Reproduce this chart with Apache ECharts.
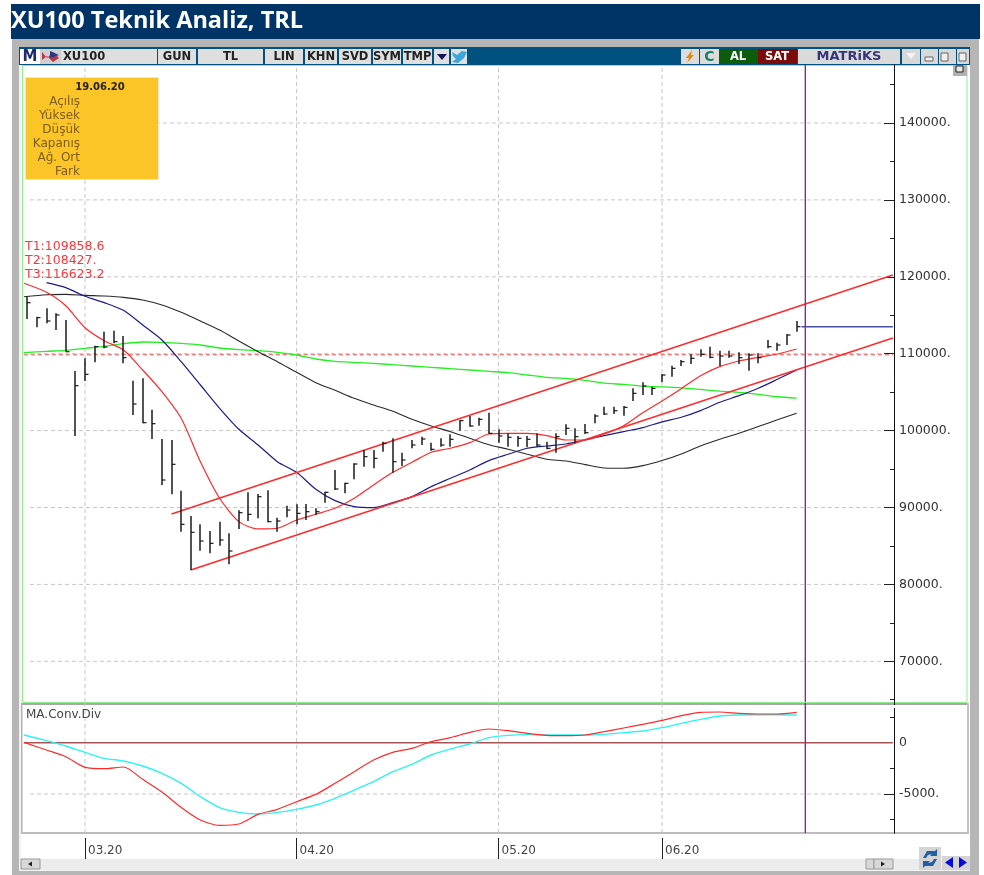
<!DOCTYPE html>
<html>
<head>
<meta charset="utf-8">
<title>XU100 Teknik Analiz, TRL</title>
<script src="https://cdn.jsdelivr.net/npm/echarts@6/dist/echarts.min.js"></script>
<style>
  html, body { margin: 0; padding: 0; background: #fff; }
  #main { width: 984px; height: 875px; }
</style>
</head>
<body>
<div id="main"></div>
<script>
// trading day index, 0 = first bar on the screen
const barDays = []
const barHigh = [117416,114815,115899,115249,114382,107749,109397,111044,112864,112994,112301,106492,106795,102721,98906,98776,92186,88892,87808,86941,88155,86637,89629,91970,91753,92229,88675,90236,90409,90454,89890,92057,94875,93228,95742,97476,97476,98560,98993,97129,98776,99210,98430,98993,99514,101378,101898,101681,102331,100164,99644,99297,99297,99644,98559,99643,100813,100293,100857,102114,103111,103111,103198,105495,106276,105712,107359,108443,109180,109917,110567,110914,110394,110394,110177,110047,110047,111781,111434,112561,114252]
const barLow = [114512,113428,113948,113081,110263,99296,106449,108876,110697,111347,108746,102027,100943,98906,92923,91710,86855,81869,84383,84037,85034,82606,87201,88242,88588,88068,86855,88718,87808,88372,89023,90627,92274,91840,93661,95309,95092,97259,94528,95395,97693,98126,97389,97909,97909,99990,100510,100640,99557,98430,97909,97909,97823,97909,97563,97129,99426,98342,99556,100943,102027,102157,101941,103848,104628,104628,106276,107012,108400,108660,109613,109396,108400,109483,108660,107793,108746,110697,110394,111131,112865]
const barClose = [116636,114685,114252,115032,110263,105842,107316,110914,110870,111564,109483,103458,101030,100900,93574,95611,87808,86768,85641,85337,85771,84340,89325,89109,91406,88155,88242,89672,89238,89456,89456,91970,92404,93141,95655,96609,96392,98343,95958,96176,98126,98907,97563,98126,98863,101291,100597,101464,99644,99297,99124,98993,98863,98126,97693,99210,100293,99210,99730,101897,102157,102591,103024,104845,105798,105495,107229,108097,108963,109396,109917,109527,109700,109700,109483,109830,109483,110914,111131,112431,113515]
barHigh.forEach((v, i) => barDays.push(i))

// moving averages are read every second day
const lineDays = [-0.35,2,4,6,8,10,12,14,16,18,20,22,24,26,28,30,32,34,36,38,40,42,44,46,48,50,52,54,56,58,60,62,64,66,68,70,72,74,76,78,80]
const maRed = [119155,117985,116240,113380,111690,110480,107880,105060,101600,95960,91200,88160,87210,87300,88370,89120,89900,91200,92930,94570,95880,97180,97700,98430,99560,99650,99650,99350,98780,98780,99560,100640,102330,103850,105450,107140,108320,109050,109530,109960,110610]
const maBlue = [null,119240,118590,117470,116640,115640,113730,111780,108960,105930,102900,100170,98130,95960,94570,92370,90890,90110,89980,90630,91410,92710,93800,94880,96100,96920,97700,98000,98260,98780,99350,99870,100390,101130,101730,102600,103680,104540,105500,106670,107880]
const maBlack = [117410,117670,117720,117590,117500,117330,116980,116330,115380,114250,113080,111650,110260,108960,107580,106230,105240,104200,103330,102510,101470,100600,99860,99000,98170,97570,96920,96270,96050,95570,95140,95100,95440,96100,96970,98010,98880,99660,100530,101400,102250]
const maGreen = [110130,110310,110440,110700,110960,111300,111520,111480,111350,111130,110740,110520,110390,110180,109830,109310,109010,108880,108750,108570,108400,108230,108050,107880,107700,107530,107230,106930,106780,106520,106170,106000,105780,105690,105560,105350,105130,104960,104700,104400,104220]
const macdRed = [35,-712,-1362,-2401,-2531,-2369,-3571,-4806,-6300,-7535,-8054,-7925,-6982,-6495,-5748,-5033,-3961,-2824,-1687,-939,-549,100,490,1010,1335,1173,913,718,685,750,1075,1433,1790,2180,2635,2960,2992,2862,2797,2797,2960]
const macdCyan = [750,198,-322,-939,-1524,-1784,-2271,-2986,-3961,-5260,-6333,-6788,-6950,-6788,-6495,-6073,-5423,-4611,-3798,-2824,-2109,-1199,-614,-127,490,718,783,750,750,750,815,978,1140,1465,1887,2277,2602,2700,2732,2732,2700]

// drawn lines
const trendUpperDays = [15, 90]
const trendUpper = [89155, 120234]
const trendLowerDays = [17, 90]
const trendLower = [81870, 112040]
const levelDays = [-0.35, 90]
const levelT1 = 109858.6
const lastCloseDays = [80.5, 90]
const lastClose = 113500
const cursorDay = 80.9

const monthTicks = [6, 28, 49, 66]
const monthLabels = ['03.20', '04.20', '05.20', '06.20']
const priceTicks = [70000, 80000, 90000, 100000, 110000, 120000, 130000, 140000]
const priceMinorTicks = [65000, 75000, 85000, 95000, 105000, 115000, 125000, 135000, 145000]
const macdLabels = [0, -5000]
const macdTicks = [-5000]
const macdMinorTicks = [2500, -2500, -7500]
const dayMin = -0.447
const dayMax = 90.12
const gridLineFrom = 0.28
const gridLineTo = 88.98
const priceMin = 64707
const priceMax = 147542
const macdMin = -8800
const macdMax = 3870

const infoDate = '19.06.20'
const infoRows = ['Açılış', 'Yüksek', 'Düşük', 'Kapanış', 'Ağ. Ort', 'Fark']
const channelTexts = ['T1:109858.6', 'T2:108427.', 'T3:116623.2']

const uiFont = 'DejaVu Sans'

function pairs(days, vals) {
  return days.map((d, i) => [d, vals[i]])
}
function rect(x, y, w, h, fill, z, stroke) {
  return { type: 'rect', z: z || 0, silent: true, shape: { x, y, width: w, height: h }, style: { fill, stroke: stroke || null, lineWidth: 1 } }
}
function label(x, y, text, color, size, weight, align, z) {
  return {
    type: 'text', z: z || 1, silent: true, x, y,
    style: { text, fill: color, font: (weight || 'normal') + ' ' + size + 'px "' + uiFont + '"', textAlign: align || 'left', textVerticalAlign: 'middle' }
  }
}
function poly(points, fill, z) {
  return { type: 'polygon', z: z || 1, silent: true, shape: { points }, style: { fill } }
}

// window chrome, toolbars and the info box
const toolbarCells = [
  [61, 157, ''], [158, 196, 'GUN'], [198, 263, 'TL'], [265, 303, 'LIN'], [305, 337, 'KHN'],
  [339, 371, 'SVD'], [373, 401, 'SYM'], [403, 432, 'TMP'], [434, 449, ''], [451, 467, '']
]
const graphics = [
  rect(11, 4, 969, 35, '#003366'),
  rect(12, 39, 967, 836, '#b6b6b6'),
  rect(19, 47, 951, 824, '#f2f2f2'),
  rect(19, 47, 951, 18, '#00517f'),
  rect(21, 65, 949, 769, '#ffffff'),
  rect(22.5, 65.5, 944.5, 637, '#ffffff', 0, '#8df08d'),
  rect(21, 703, 947, 2, '#a8a8a8'),
  rect(21, 703, 1.5, 130, '#b4b4b4'),
  rect(21, 832, 948, 2, '#bcbcbc'),
  rect(967, 703, 2, 130, '#c4c4c4'),
  rect(21, 834, 949, 25, '#ffffff'),
  rect(21, 859, 949, 11, '#ececec'),
  rect(20, 49, 20, 15, '#ffffff'),
  rect(40, 49, 21, 15, '#d0d0d0'),
  rect(681, 49, 18, 15, '#dcdcdc'),
  rect(700, 49, 19, 15, '#dcdcdc'),
  rect(720, 49, 37, 15, '#0b5c0b'),
  rect(758, 49, 39, 15, '#7c0c0c'),
  rect(798, 49, 102, 15, '#dadada'),
  rect(902, 49, 18, 15, '#d8d8d8'),
  rect(921, 49, 17, 15, '#d8d8d8'),
  rect(939, 49, 17, 15, '#d8d8d8'),
  rect(957, 49, 12, 15, '#d8d8d8'),
  rect(953, 65, 14, 11, '#b0b0b0', 5),
  rect(956, 66, 7, 6, '#e8e8e8', 5, '#222'),
  label(30, 57, 'M', '#1d2a6e', 15, 'bold', 'center'),
  poly([[42, 52], [47, 58], [53, 52], [59, 58], [53, 62], [47, 56], [42, 60]], '#b8374a'),
  poly([[50, 51], [59, 55], [50, 58]], '#2b3a80'),
  label(63, 57, 'XU100', '#222', 11.5, 'bold'),
  poly([[437, 54], [447, 54], [442, 60]], '#12125c'),
  poly([[452, 52], [457, 55], [462, 51], [467, 52], [464, 58], [458, 63], [452, 62], [456, 59], [453, 56]], '#3aa6dc'),
  poly([[692, 50], [686, 58], [689, 58], [687, 63], [694, 55], [691, 55]], '#e08a12'),
  label(709.5, 57, 'C', '#15806a', 14, 'bold', 'center'),
  label(738, 57, 'AL', '#ffffff', 11.5, 'bold', 'center'),
  label(777, 57, 'SAT', '#ffffff', 11.5, 'bold', 'center'),
  label(849, 57, 'MATRiKS', '#35357a', 13, 'bold', 'center'),
  poly([[906, 53], [916, 53], [911, 59]], '#f4f4f4'),
  rect(925, 57, 8, 4, '#eeeeee', 1, '#666'),
  rect(941, 53, 7, 8, '#eeeeee', 1, '#666'),
  rect(959, 53, 7, 8, '#eeeeee', 1, '#666'),
  // the lower axis line starts a little under the panel edge
  rect(890, 705, 8, 3, '#ffffff', 20),
  // info box
  rect(25.5, 77.5, 133, 102, '#fcc527', 50, '#f0e6c8'),
  label(100, 87, infoDate, '#222', 10, 'bold', 'center', 51),
  label(26, 715, 'MA.Conv.Div', '#444', 12, 'normal', 'left', 5),
  // scroll bar and the buttons in the bottom corner
  rect(21, 859, 19, 10, '#d8d8d8', 1, '#999'),
  poly([[28, 864], [32, 861.5], [32, 866.5]], '#222'),
  rect(866, 859, 8, 10, '#d8d8d8', 1, '#999'),
  rect(874, 859, 19, 10, '#d8d8d8', 1, '#999'),
  poly([[885, 864], [881, 861.5], [881, 866.5]], '#222'),
  rect(919, 847, 22, 23, '#d4d4d4', 1),
  poly([[923, 858], [927, 851], [935, 851], [937, 849], [937, 856], [930, 856], [932, 854], [928, 855], [926, 858]], '#1f5fa8'),
  poly([[937, 859], [933, 866], [925, 866], [923, 868], [923, 861], [930, 861], [928, 863], [932, 862], [934, 859]], '#1f5fa8'),
  rect(942, 856, 14, 14, '#d4d4d4', 1),
  rect(956, 856, 14, 14, '#d4d4d4', 1),
  poly([[945, 862.5], [953, 857], [953, 868]], '#0a0ad8'),
  poly([[967, 862.5], [959, 857], [959, 868]], '#0a0ad8')
]
toolbarCells.forEach(c => {
  graphics.push(rect(c[0], 49, c[1] - c[0], 15, '#dfdfdf'))
  if (c[2]) graphics.push(label((c[0] + c[1]) / 2, 57, c[2], '#222', 11.5, 'bold', 'center'))
})
infoRows.forEach((t, i) => graphics.push(label(80, 101.5 + i * 14, t, '#7d5c1c', 12, 'normal', 'right', 51)))
channelTexts.forEach((t, i) => graphics.push(label(25, 246.5 + i * 14, t, '#f8383c', 12.5, 'normal', 'left', 5)))

// custom series draws high-low stick with the close tick on the right
function renderBar(params, api) {
  const day = api.value(0)
  const hi = api.coord([day, api.value(1)])
  const lo = api.coord([day, api.value(2)])
  const cl = api.coord([day, api.value(3)])
  const x = Math.round(hi[0])
  const ls = { stroke: '#1a1a1a', lineWidth: 1.5 }
  return {
    type: 'group',
    children: [
      { type: 'line', shape: { x1: x, y1: hi[1], x2: x, y2: lo[1] }, style: ls },
      { type: 'line', shape: { x1: x, y1: cl[1], x2: x + 3.5, y2: cl[1] }, style: { stroke: '#1a1a1a', lineWidth: 1.2 } }
    ]
  }
}

function thinLine(name, data, color, width, x, y, extra) {
  return Object.assign({
    name, type: 'line', data, xAxisIndex: x, yAxisIndex: y,
    symbol: 'none', animation: false, silent: true,
    lineStyle: { color, width: width || 1 }
  }, extra || {})
}

const gridStyle = { lineStyle: { color: '#c6c6c6', width: 1, type: [4, 3] }, z: 1 }
const curve = { smooth: 0.25 }
const priceGridH = priceTicks.flatMap(v => [[gridLineFrom, v], [gridLineTo, v], [gridLineTo, null]])
const priceGridV = monthTicks.flatMap(d => [[d, priceMin], [d, priceMax], [d, null]])
const macdGridH = macdTicks.flatMap(v => [[gridLineFrom, v], [gridLineTo, v], [gridLineTo, null]])
const macdGridV = monthTicks.flatMap(d => [[d, macdMin], [d, macdMax], [d, null]])

function tickAxis(index, min, max, labelValues, tickValues, tickLen) {
  return {
    type: 'value', gridIndex: index, position: 'right', min, max,
    splitLine: { show: false },
    axisLine: { show: true, onZero: false, lineStyle: { color: '#111', width: 1 } },
    axisTick: { show: true, inside: true, length: tickLen, customValues: tickValues, lineStyle: { color: '#222' } },
    axisLabel: labelValues ? {
      show: true, customValues: labelValues, margin: 5, color: '#333', fontFamily: uiFont, fontSize: 12.5,
      padding: [2, 0, 0, 0],
      formatter: v => (v === 0 ? '0' : v + '.')
    } : { show: false }
  }
}

const option = {
  animation: false,
  backgroundColor: '#ffffff',
  title: {
    text: 'XU100 Teknik Analiz, TRL', left: 11, top: 5, padding: 0, z: 10,
    textStyle: { color: '#ffffff', fontFamily: 'Open Sans', fontWeight: 700, fontSize: 23.5, lineHeight: 32 }
  },
  graphic: { elements: graphics },
  grid: [
    { left: 23, top: 65, width: 871, height: 637 },
    { left: 23, top: 703, width: 871, height: 130 }
  ],
  xAxis: [
    { type: 'value', gridIndex: 0, min: dayMin, max: dayMax, show: false },
    {
      type: 'value', gridIndex: 1, min: dayMin, max: dayMax, position: 'bottom', offset: 5,
      splitLine: { show: false },
      axisLine: { show: false, onZero: false },
      axisTick: { show: true, length: 21, customValues: monthTicks, lineStyle: { color: '#222', width: 1 } },
      axisLabel: {
        show: true, customValues: monthTicks, align: 'left', margin: 7, padding: [0, 0, 0, 3],
        color: '#444', fontFamily: uiFont, fontSize: 12,
        formatter: v => monthLabels[monthTicks.indexOf(v)]
      }
    }
  ],
  yAxis: [
    tickAxis(0, priceMin, priceMax, priceTicks, priceTicks, 10),
    tickAxis(0, priceMin, priceMax, null, priceMinorTicks, 4),
    tickAxis(1, macdMin, macdMax, macdLabels, macdTicks, 10),
    tickAxis(1, macdMin, macdMax, null, macdMinorTicks, 4)
  ],
  series: [
    thinLine('gridH', priceGridH, '#c6c6c6', 1, 0, 0, gridStyle),
    thinLine('gridV', priceGridV, '#c6c6c6', 1, 0, 0, gridStyle),
    thinLine('macdGridH', macdGridH, '#c6c6c6', 1, 1, 2, gridStyle),
    thinLine('macdGridV', macdGridV, '#c6c6c6', 1, 1, 2, gridStyle),
    thinLine('T1', pairs(levelDays, [levelT1, levelT1]), '#f54a4a', 1, 0, 0, { lineStyle: { color: '#f54a4a', width: 1, type: [4, 3] } }),
    thinLine('MA green', pairs(lineDays, maGreen), '#22f022', 1.3, 0, 0, curve),
    thinLine('MA black', pairs(lineDays, maBlack), '#2a2a2a', 1.1, 0, 0, curve),
    thinLine('MA blue', pairs(lineDays, maBlue), '#1c1c8c', 1.2, 0, 0, curve),
    thinLine('MA red', pairs(lineDays, maRed), '#ff2a2a', 1.2, 0, 0, curve),
    thinLine('Upper', pairs(trendUpperDays, trendUpper), '#ff2a2a', 1.4, 0, 0),
    thinLine('Lower', pairs(trendLowerDays, trendLower), '#ff2a2a', 1.4, 0, 0),
    thinLine('Last', pairs(lastCloseDays, [lastClose, lastClose]), '#4a4fa6', 1.6, 0, 0),
    {
      name: 'XU100', type: 'custom', xAxisIndex: 0, yAxisIndex: 0, renderItem: renderBar, clip: false, z: 4,
      encode: { x: 0, y: [1, 2, 3] }, silent: true,
      data: barDays.map((d, i) => [d, barHigh[i], barLow[i], barClose[i]])
    },
    thinLine('Cursor', [[cursorDay, priceMin], [cursorDay, priceMax]], '#862a8c', 1.4, 0, 0, { z: 5 }),
    thinLine('Zero', [[levelDays[0], 0], [levelDays[1], 0]], '#a85454', 1.6, 1, 2),
    thinLine('Signal', pairs(lineDays, macdCyan), '#2ff2f2', 1.4, 1, 2, curve),
    thinLine('MACD', pairs(lineDays, macdRed), '#ff2a2a', 1.2, 1, 2, curve),
    thinLine('CursorLow', [[cursorDay, macdMax], [cursorDay, macdMin]], '#862a8c', 1.4, 1, 2, { z: 5 })
  ]
}

const chart = echarts.init(document.getElementById('main'))
chart.setOption(option)
</script>
</body>
</html>
